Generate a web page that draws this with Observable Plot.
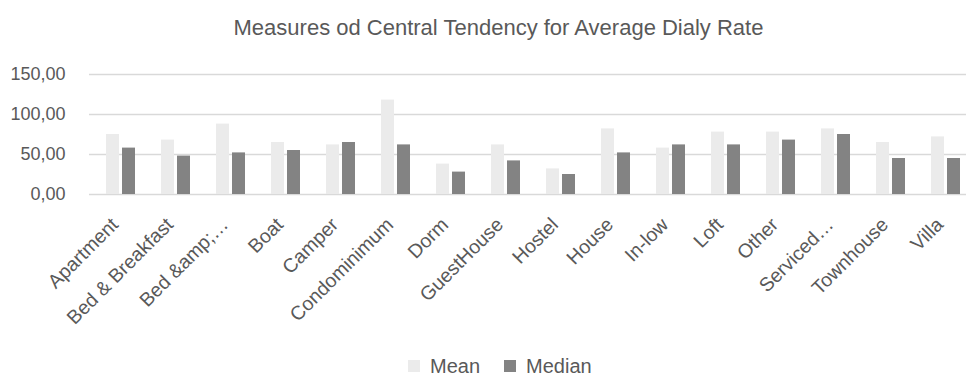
<!DOCTYPE html>
<html>
<head>
<meta charset="utf-8">
<script src="https://cdn.jsdelivr.net/npm/d3@7"></script>
<script src="https://cdn.jsdelivr.net/npm/@observablehq/plot@0.6"></script>
<style>
  html, body { margin: 0; padding: 0; background: #fff; }
  body { width: 966px; height: 377px; overflow: hidden; font-family: "Liberation Sans", Arial, sans-serif; }
  #title { position: absolute; left: 0; top: 0; width: 966px; height: 50px; line-height: 56px; text-align: center; font-size: 22px; color: #595959; padding-left: 31px; box-sizing: border-box; }
  #chart { position: absolute; left: 0; top: 50px; }
  #legend { position: absolute; left: 408px; top: 354px; display: flex; align-items: center; gap: 24px; font-size: 20px; color: #595959; height: 24px; }
  #legend span.sw { display: inline-block; width: 12px; height: 12px; margin-right: 10px; }
</style>
</head>
<body>
<div id="title">Measures od Central Tendency for Average Dialy Rate</div>
<div id="chart"></div>
<div id="legend"></div>
<script>
const categories = ["Apartment", "Bed & Breakfast", "Bed &amp;…", "Boat", "Camper", "Condominimum", "Dorm", "GuestHouse", "Hostel", "House", "In-low", "Loft", "Other", "Serviced…", "Townhouse", "Villa"];
const meanValues = [75, 68, 88, 65, 62, 118, 38, 62, 32, 82, 58, 78, 78, 82, 65, 72];
const medianValues = [58, 48, 52, 55, 65, 62, 28, 42, 25, 52, 62, 62, 68, 75, 45, 45];
const seriesNames = ["Mean", "Median"];
const seriesColors = ["#ebebeb", "#838383"];
const yTicks = [0, 50, 100, 150];

const meanData = categories.map((c, i) => ({category: c, value: meanValues[i]}));
const medianData = categories.map((c, i) => ({category: c, value: medianValues[i]}));

const fmt = v => v.toFixed(2).replace(".", ",");

const chart = Plot.plot({
  width: 966,
  height: 300,
  marginTop: 24,
  marginBottom: 156,
  marginLeft: 89,
  marginRight: 0,
  style: {fontFamily: "Liberation Sans, Arial, sans-serif", color: "#595959", background: "transparent"},
  x: {domain: categories, range: [90.3, 976], padding: 0, label: null},
  y: {domain: [0, 150], ticks: yTicks, label: null},
  marks: [
    Plot.ruleY(yTicks, {stroke: "#d9d9d9", strokeWidth: 1.5}),
    Plot.barY(meanData, {x: "category", y: "value", fill: seriesColors[0], insetLeft: 13, insetRight: 29}),
    Plot.barY(medianData, {x: "category", y: "value", fill: seriesColors[1], insetLeft: 29, insetRight: 13}),
    Plot.axisY({ticks: yTicks, tickSize: 0, tickPadding: 24, tickFormat: fmt, fontSize: 18, label: null}),
    Plot.axisX({tickSize: 0, tickRotate: -45, tickPadding: 17, dx: -6, dy: 10, fontSize: 19.5, label: null})
  ]
});
document.getElementById("chart").appendChild(chart);

const legend = document.getElementById("legend");
seriesNames.forEach((name, i) => {
  const item = document.createElement("div");
  item.innerHTML = `<span class="sw" style="background:${seriesColors[i]}"></span>${name}`;
  item.style.display = "flex";
  item.style.alignItems = "center";
  legend.appendChild(item);
});
</script>
</body>
</html>
